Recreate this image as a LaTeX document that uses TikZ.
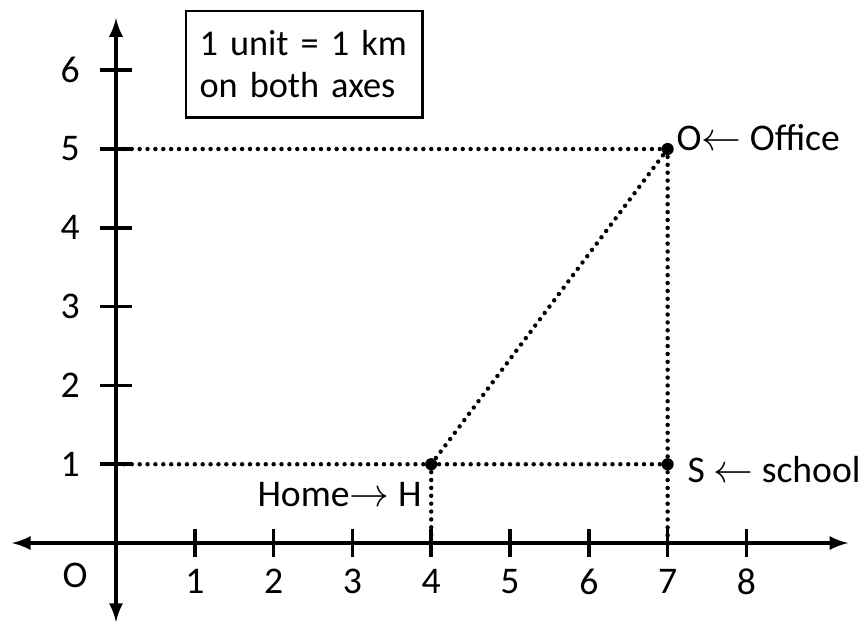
\documentclass[tikz,border=0pt]{standalone}
\usepackage{fontspec}
\setmainfont{Carlito}
\begin{document}
\begin{tikzpicture}[>=latex, line width=1.3pt, font=\fontsize{13.6}{15.5}\selectfont,
  dotline/.style={line width=1.6pt, dash pattern=on 0pt off 0.1cm, line cap=round},
  pt/.style={circle, fill, inner sep=0pt, minimum size=4.4pt}]
\useasboundingbox (-1.472,-1.028) rectangle (9.454,6.891);
\draw[<->](-1.32,0)--(9.29,0);
\draw[<->](0,-1.0)--(0,6.66);
\node (orig) at (-0.52,-0.41){O};
\foreach \x in {1,...,8}{
  \draw(\x,-0.18)--(\x,0.18);
  \node (x\x) at (\x,-0.49){\x};
}
\foreach \y in {1,...,6}{
  \draw(-0.2,\y)--(0.2,\y);
  \node (y\y) at (-0.58,\y){\y};
}
\coordinate (Y5) at (0,5);
\coordinate (Y1) at (0,1);
\coordinate (X4) at (4,0);
\coordinate (X7) at (7,0);
\node[pt] (O) at (7,5){};
\node[pt] (S) at (7,1){};
\node[pt] (H) at (4,1){};
\draw[dotline](Y5)--(O.center)--(X7);
\draw[dotline](Y1)--(S.center);
\draw[dotline](H.center)--(X4);
\draw[dotline](H.center)--(O.center);
\node[anchor=west, inner sep=0pt] (office) at (7.09,5.14){O$\leftarrow$ Office};
\node[anchor=west, inner sep=0pt] (school) at (7.23,0.93){S $\leftarrow$ school};
\node[anchor=east, inner sep=0pt] (home) at (3.9,0.61){Home$\rightarrow$ H};
\node[draw, line width=0.8pt, anchor=north west, align=left, text width=2.66cm,
  inner xsep=0.17cm, minimum height=1.35cm, font=\fontsize{13.1}{15.2}\selectfont]
  (unit) at (0.876,6.764) {1 unit = 1 km\\on both axes};
\end{tikzpicture}
\end{document}
